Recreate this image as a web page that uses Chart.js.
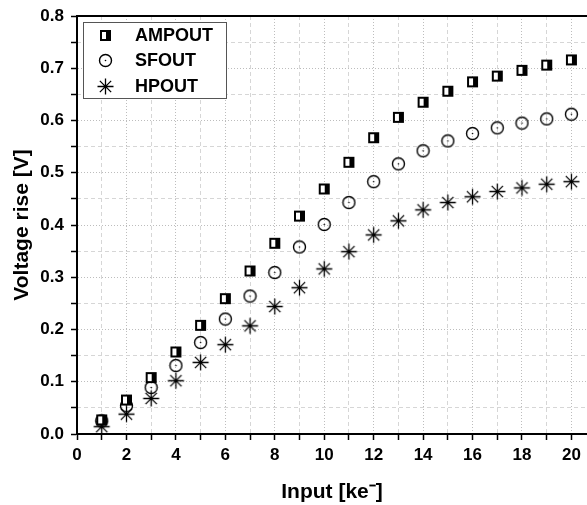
<!DOCTYPE html>
<html>
<head>
<meta charset="utf-8">
<script src="https://cdn.jsdelivr.net/npm/chart.js@4.4.0/dist/chart.umd.min.js"></script>
<style>
  html, body { margin: 0; padding: 0; background: #fff; }
  #wrap { width: 587px; height: 505px; position: relative; }
</style>
</head>
<body>
<div id="wrap"><canvas id="riseChart"></canvas></div>
<script>
// values
const inputs = [1, 2, 3, 4, 5, 6, 7, 8, 9, 10, 11, 12, 13, 14, 15, 16, 17, 18, 19, 20];
const ampout = [0.027, 0.065, 0.108, 0.157, 0.208, 0.259, 0.312, 0.365, 0.417, 0.469,
                0.520, 0.567, 0.606, 0.635, 0.656, 0.674, 0.685, 0.696, 0.706, 0.716];
const sfout  = [0.025, 0.054, 0.089, 0.131, 0.175, 0.220, 0.264, 0.309, 0.358, 0.401,
                0.443, 0.483, 0.517, 0.542, 0.561, 0.575, 0.586, 0.595, 0.603, 0.612];
const hpout  = [0.014, 0.038, 0.068, 0.102, 0.137, 0.171, 0.207, 0.244, 0.280, 0.316,
                0.349, 0.381, 0.408, 0.429, 0.443, 0.454, 0.464, 0.471, 0.478, 0.483];

const xTickLabels = ['0', '2', '4', '6', '8', '10', '12', '14', '16', '18', '20'];
const yTickLabels = ['0.0', '0.1', '0.2', '0.3', '0.4', '0.5', '0.6', '0.7', '0.8'];

const FONT = '"Liberation Sans", Arial, sans-serif';
const tickFont = { family: FONT, size: 17, weight: 'bold' };
const titleFont = { family: FONT, size: 21, weight: 'bold' };
const majorGrid = '#bdbdbd';
const minorGrid = '#d6d6d6';
const none = 'rgba(0,0,0,0)';
const X_MAX = 20.63; // the right edge of the plot is cut off in the picture

// marker images (used for points and the legend)
function makeMarker(size, draw) {
  const c = document.createElement('canvas');
  c.width = size; c.height = size;
  draw(c.getContext('2d'), size);
  return c;
}
const halfSquare = makeMarker(13, g => {
  g.fillStyle = '#000';
  g.fillRect(1, 1, 11, 11);
  g.fillStyle = '#fff';
  g.fillRect(3, 3, 4, 7);
});
const dotCircle = makeMarker(15, g => {
  g.strokeStyle = '#000';
  g.lineWidth = 1.4;
  g.beginPath(); g.arc(7.5, 7.5, 6, 0, Math.PI * 2); g.stroke();
  g.fillStyle = '#000';
  g.beginPath(); g.arc(7.5, 7.5, 0.8, 0, Math.PI * 2); g.fill();
});
const asterisk = makeMarker(19, g => {
  g.strokeStyle = '#000';
  g.lineWidth = 1.3;
  const c = 9.5, r = 8, d = r * Math.SQRT1_2;
  g.beginPath();
  g.moveTo(c, c - r); g.lineTo(c, c + r);
  g.moveTo(c - r, c); g.lineTo(c + r, c);
  g.moveTo(c - d, c - d); g.lineTo(c + d, c + d);
  g.moveTo(c - d, c + d); g.lineTo(c + d, c - d);
  g.stroke();
});

const toPoints = ys => inputs.map((x, i) => ({ x: x, y: ys[i] }));
const intTicks = s => { s.ticks = s.ticks.filter(t => Number.isInteger(t.value) && t.value <= X_MAX); };
const isTenth = v => Math.abs(v * 10 - Math.round(v * 10)) < 1e-6;
const noPad = s => { s.paddingLeft = 0; s.paddingRight = 0; s.paddingTop = 0; s.paddingBottom = 0; };

// legend box drawn inside the plot, top left
const legendBox = {
  id: 'legendBox',
  afterDraw(chart) {
    const ctx = chart.ctx;
    ctx.save();
    ctx.fillStyle = '#fff';
    ctx.strokeStyle = '#555';
    ctx.lineWidth = 1;
    ctx.fillRect(83.5, 22.5, 143, 76);
    ctx.strokeRect(83.5, 22.5, 143, 76);
    ctx.font = 'bold 18px ' + FONT;
    ctx.textBaseline = 'middle';
    ctx.fillStyle = '#000';
    chart.data.datasets.forEach((ds, i) => {
      const y = 35 + i * 25.5;
      const img = ds.pointStyle;
      ctx.drawImage(img, Math.round(105 - img.width / 2), Math.round(y - img.height / 2));
      ctx.fillText(ds.label, 135, y + 1);
    });
    ctx.restore();
  }
};

// top frame line
const topFrame = {
  id: 'topFrame',
  afterDatasetsDraw(chart) {
    const { ctx, chartArea } = chart;
    ctx.save();
    ctx.strokeStyle = '#000';
    ctx.lineWidth = 2;
    ctx.beginPath();
    ctx.moveTo(chartArea.left - 1, chartArea.top);
    ctx.lineTo(chartArea.right, chartArea.top);
    ctx.stroke();
    ctx.restore();
  }
};

new Chart(document.getElementById('riseChart'), {
  type: 'scatter',
  data: {
    datasets: [
      { label: 'AMPOUT', data: toPoints(ampout), pointStyle: halfSquare, pointRadius: 6 },
      { label: 'SFOUT', data: toPoints(sfout), pointStyle: dotCircle, pointRadius: 6 },
      { label: 'HPOUT', data: toPoints(hpout), pointStyle: asterisk, pointRadius: 8 }
    ]
  },
  options: {
    responsive: true,
    maintainAspectRatio: false,
    animation: false,
    devicePixelRatio: 1,
    layout: { autoPadding: false, padding: { top: 16, left: 0, right: 0, bottom: 0 } },
    plugins: {
      legend: { display: false },
      tooltip: { enabled: false }
    },
    scales: {
      x: {
        type: 'linear', position: 'bottom', min: 0, max: X_MAX, bounds: 'data',
        afterBuildTicks: intTicks,
        afterFit: s => { s.height = 71; noPad(s); },
        ticks: {
          stepSize: 1, includeBounds: false, autoSkip: false, maxRotation: 0, padding: 5,
          color: '#000', font: tickFont,
          callback: v => xTickLabels.includes(String(v)) ? String(v) : ''
        },
        grid: {
          color: c => (c.tick && c.tick.value % 2 === 0) ? majorGrid : none,
          tickColor: '#000', tickLength: 6, tickWidth: 1.5, tickBorderDash: []
        },
        border: { color: '#000', width: 2, dash: [1, 2] },
        title: { display: true, text: 'Input [ke⁻]', color: '#000', font: titleFont, padding: { top: 0, bottom: 0 } }
      },
      xMinor: {
        type: 'linear', position: 'bottom', min: 0, max: X_MAX, bounds: 'data',
        afterBuildTicks: intTicks,
        afterFit: s => { s.height = 0; noPad(s); },
        ticks: { display: false, stepSize: 1, includeBounds: false, autoSkip: false },
        grid: {
          color: c => (c.tick && c.tick.value % 2 === 1) ? minorGrid : none,
          drawTicks: false
        },
        border: { display: false, dash: [4, 3] }
      },
      y: {
        type: 'linear', position: 'left', min: 0, max: 0.8,
        afterFit: s => { s.width = 77; noPad(s); },
        ticks: {
          stepSize: 0.05, autoSkip: false, padding: 7,
          color: '#000', font: tickFont,
          callback: v => {
            const s = v.toFixed(1);
            return isTenth(v) && yTickLabels.includes(s) ? s : '';
          }
        },
        grid: {
          color: c => (c.tick && Math.round(c.tick.value * 20) % 2 === 0) ? majorGrid : none,
          tickColor: '#000', tickLength: 6, tickWidth: 1.5, tickBorderDash: []
        },
        border: { color: '#000', width: 2, dash: [1, 2] },
        title: { display: true, text: 'Voltage rise [V]', color: '#000', font: titleFont, padding: { top: 10, bottom: 0 } }
      },
      yMinor: {
        type: 'linear', position: 'left', min: 0, max: 0.8,
        afterFit: s => { s.width = 0; noPad(s); },
        ticks: { display: false, stepSize: 0.05, autoSkip: false },
        grid: {
          color: c => (c.tick && Math.round(c.tick.value * 20) % 2 === 1) ? minorGrid : none,
          drawTicks: false
        },
        border: { display: false, dash: [4, 3] }
      }
    }
  },
  plugins: [topFrame, legendBox]
});
</script>
</body>
</html>
